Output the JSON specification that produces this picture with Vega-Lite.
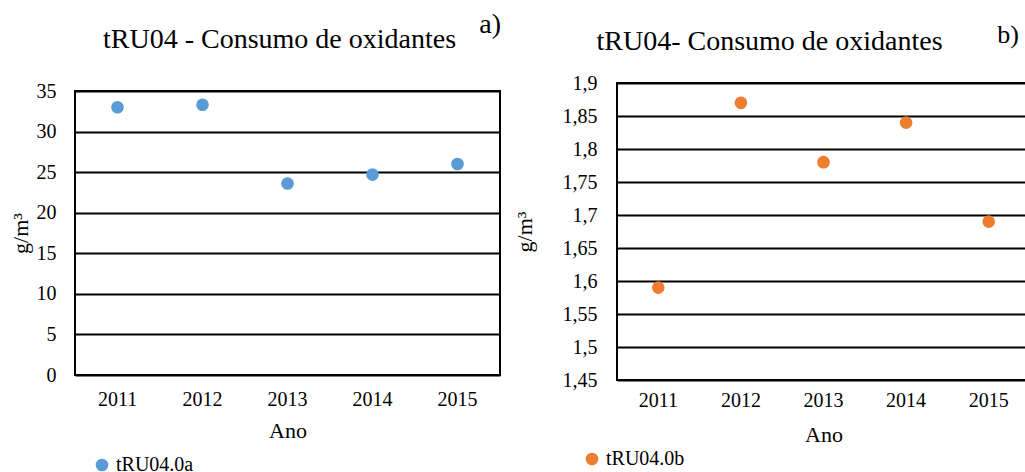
{
  "$schema": "https://vega.github.io/schema/vega-lite/v6.json",
  "background": "white",
  "padding": {"left": 8, "top": 11, "right": 0, "bottom": 0},
  "spacing": 11,
  "config": {
    "font": "Liberation Serif",
    "view": {"stroke": "black", "strokeWidth": 2},
    "axis": {"labelFont": "Liberation Serif", "titleFont": "Liberation Serif", "labelColor": "#000000", "titleColor": "#000000", "labelFontSize": 20, "titleFontSize": 22, "titleFontWeight": "normal", "ticks": false, "domain": false},
    "title": {"font": "Liberation Serif", "fontSize": 28, "fontWeight": "normal", "color": "#000000", "baseline": "alphabetic"},
    "legend": {"labelFont": "Liberation Serif", "labelFontSize": 20, "labelColor": "#000000", "symbolSize": 160, "symbolType": "circle", "symbolStrokeWidth": 0}
  },
  "hconcat": [
    {
      "title": {"text": "a)", "anchor": "end", "frame": "bounds", "offset": -13},
      "vconcat": [
        {
          "title": {"text": "tRU04 - Consumo de oxidantes", "anchor": "middle", "frame": "bounds", "dx": 25, "offset": 17},
          "spacing": 8,
          "vconcat": [
            {
              "width": 1, "height": 1,
              "view": {"stroke": null},
              "data": {"values": []},
              "mark": {"type": "rule", "opacity": 0},
              "encoding": {}
            },
            {
              "width": 425,
              "height": 284,
              "data": {"values": [
                {"ano": "2011", "valor": 33.0, "serie": "tRU04.0a"},
                {"ano": "2012", "valor": 33.3, "serie": "tRU04.0a"},
                {"ano": "2013", "valor": 23.6, "serie": "tRU04.0a"},
                {"ano": "2014", "valor": 24.7, "serie": "tRU04.0a"},
                {"ano": "2015", "valor": 26.0, "serie": "tRU04.0a"}
              ]},
              "mark": {"type": "point", "filled": true, "size": 160, "opacity": 1},
              "encoding": {
                "x": {"field": "ano", "type": "ordinal", "scale": {"type": "band", "paddingInner": 0, "paddingOuter": 0},
                      "axis": {"labelAngle": 0, "title": "Ano", "labelPadding": 14, "titlePadding": 11, "grid": false}},
                "y": {"field": "valor", "type": "quantitative", "scale": {"domain": [0, 35], "nice": false, "zero": false},
                      "axis": {"values": [0, 5, 10, 15, 20, 25, 30, 35], "grid": true, "gridColor": "#000000", "gridWidth": 2, "gridOpacity": 1, "title": "g/m³", "labelPadding": 19, "titlePadding": 4}},
                "color": {"field": "serie", "type": "nominal", "scale": {"range": ["#5B9BD5"]},
                          "legend": {"orient": "none", "legendX": 17, "legendY": 384, "title": null}}
              }
            }
          ]
        }
      ]
    },
    {
      "title": {"text": "b)", "anchor": "end", "frame": "bounds", "offset": -20, "dx": -12, "fontSize": 26},
      "vconcat": [
        {
          "title": {"text": "tRU04- Consumo de oxidantes", "anchor": "middle", "frame": "bounds", "dx": -2, "offset": 15},
          "spacing": 0,
          "vconcat": [
            {
              "width": 1, "height": 1,
              "view": {"stroke": null},
              "data": {"values": []},
              "mark": {"type": "rule", "opacity": 0},
              "encoding": {}
            },
            {
              "width": 413,
              "height": 297,
              "data": {"values": [
                {"ano": "2011", "valor": 1.59, "serie": "tRU04.0b"},
                {"ano": "2012", "valor": 1.87, "serie": "tRU04.0b"},
                {"ano": "2013", "valor": 1.78, "serie": "tRU04.0b"},
                {"ano": "2014", "valor": 1.84, "serie": "tRU04.0b"},
                {"ano": "2015", "valor": 1.69, "serie": "tRU04.0b"}
              ]},
              "mark": {"type": "point", "filled": true, "size": 160, "opacity": 1},
              "encoding": {
                "x": {"field": "ano", "type": "ordinal", "scale": {"type": "band", "paddingInner": 0, "paddingOuter": 0},
                      "axis": {"labelAngle": 0, "title": "Ano", "labelPadding": 10, "titlePadding": 14, "grid": false}},
                "y": {"field": "valor", "type": "quantitative", "scale": {"domain": [1.45, 1.9], "nice": false, "zero": false},
                      "axis": {"values": [1.45, 1.5, 1.55, 1.6, 1.65, 1.7, 1.75, 1.8, 1.85, 1.9], "labelExpr": "replace(format(datum.value, '.2~f'), '.', ',')", "grid": true, "gridColor": "#000000", "gridWidth": 2, "gridOpacity": 1, "title": "g/m³", "labelPadding": 20, "titlePadding": 26}},
                "color": {"field": "serie", "type": "nominal", "scale": {"range": ["#ED7D31"]},
                          "legend": {"orient": "none", "legendX": -35, "legendY": 378, "title": null}}
              }
            }
          ]
        }
      ]
    }
  ],
  "resolve": {"scale": {"color": "independent"}}
}
